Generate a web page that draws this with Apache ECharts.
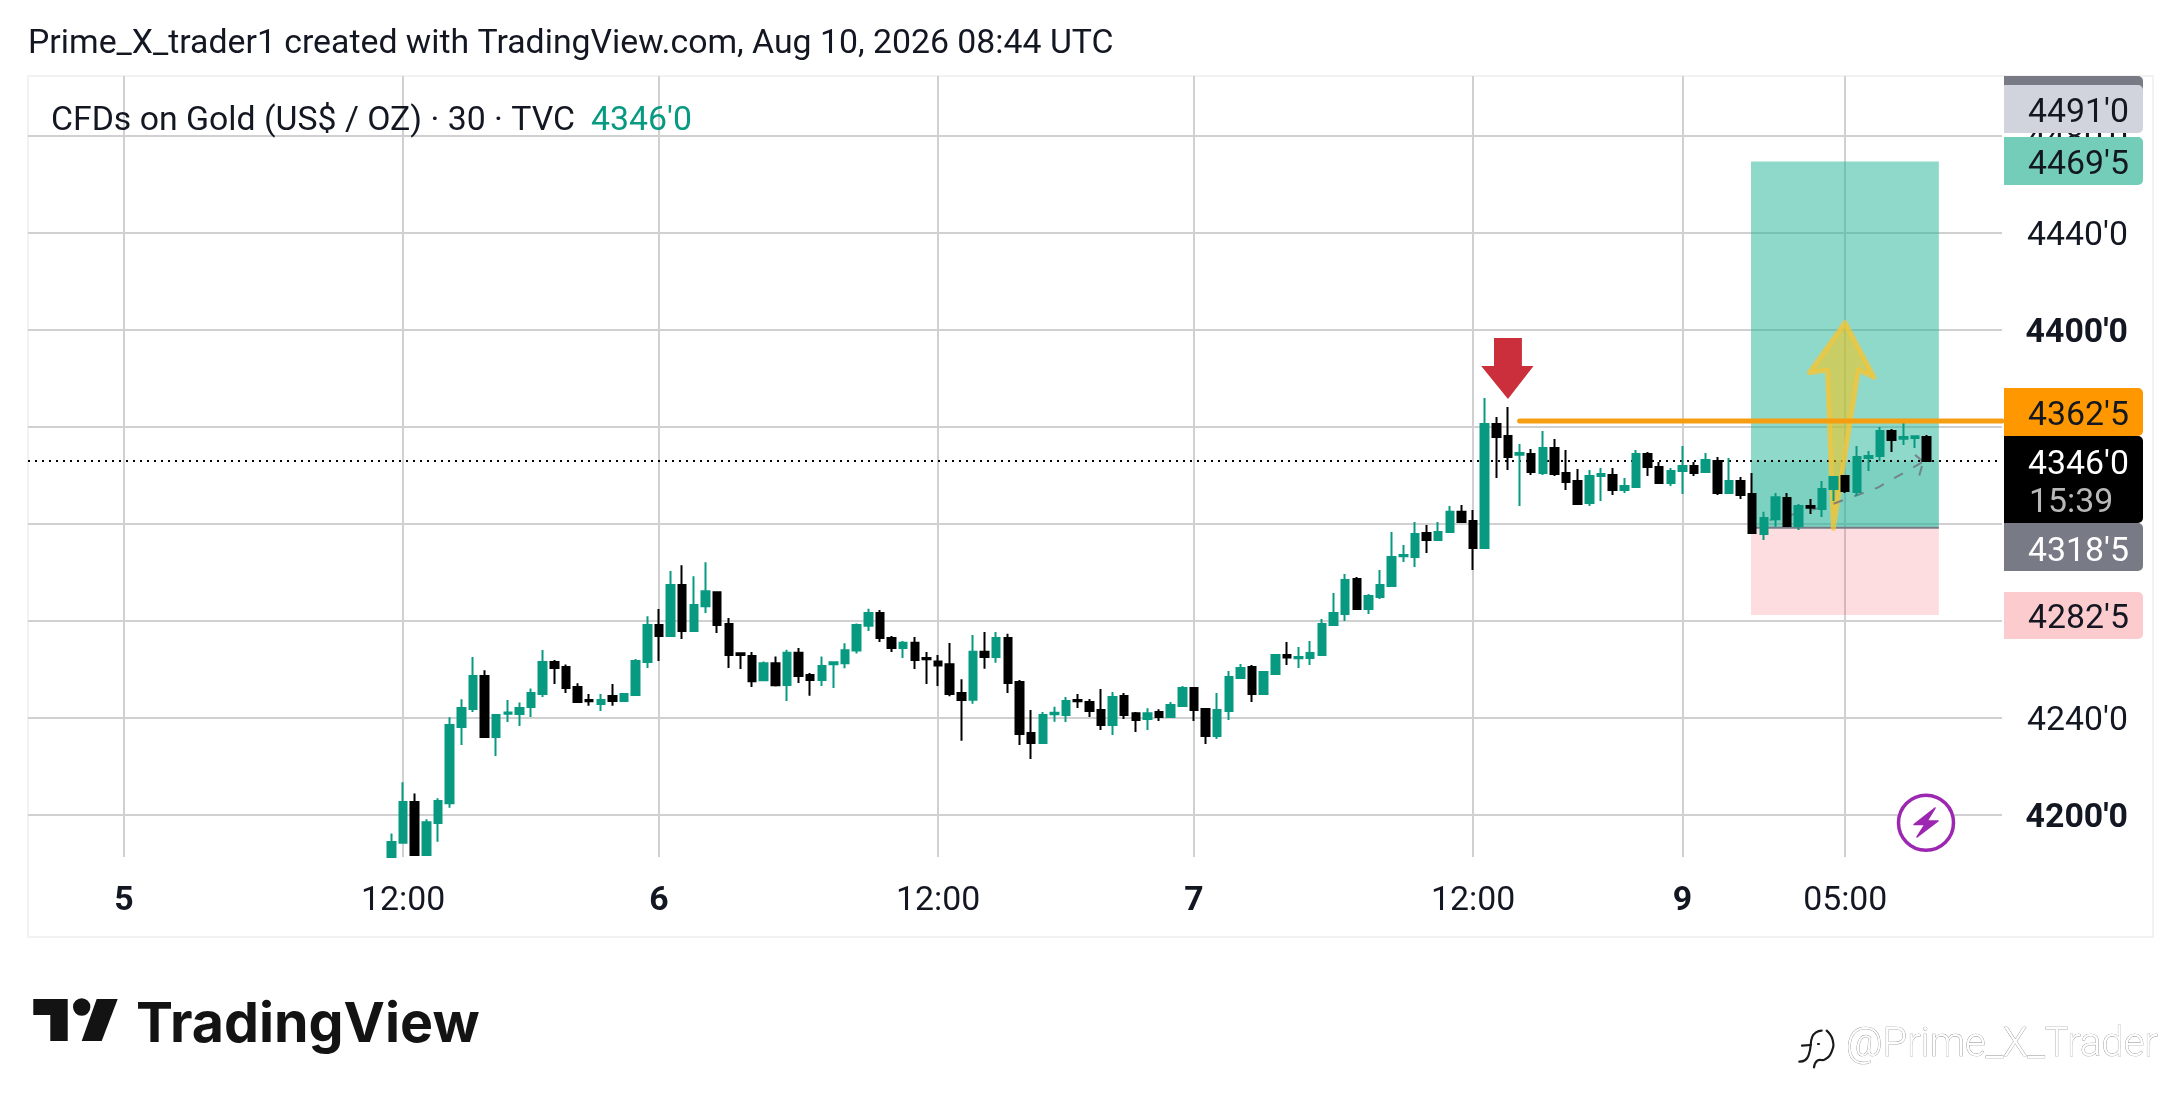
<!DOCTYPE html>
<html>
<head>
<meta charset="utf-8">
<style>html,body{margin:0;padding:0;background:#fff}#c{width:2181px;height:1106px}</style>
<script src="https://cdn.jsdelivr.net/npm/echarts@6/dist/echarts.min.js"></script>
</head>
<body>
<div id="c"></div>
<script>
// ---- data ----
const firstBar = 23;
const opens = [
4182.7,4188.6,4205.4,4183.5,4196.7,4204.8,4236.3,4243.7,4257.3,4232.2,
4241.8,4241.6,4244.5,4249.9,4263.1,4261,4252.8,4247.4,4245.8,4249.1,
4247,4249.5,4263.1,4278.4,4273.8,4294.8,4275.9,4286.1,4291.9,4278.8,
4266.7,4265.6,4255.6,4262.6,4253.6,4266.9,4257.7,4255.7,4262.2,4262.6,
4267.8,4278,4283.3,4273,4268.9,4271,4264.7,4263.3,4262.2,4250.3,
4247.5,4267.3,4265.2,4273,4254.8,4233.8,4229.7,4241.5,4241.2,4247.4,
4246.6,4243.3,4237.1,4249.1,4242,4239.6,4242.5,4240.4,4244.9,4252.4,
4243.7,4232.6,4242.9,4256.5,4261,4249.9,4258.1,4266,4264.6,4264.7,
4266,4278.4,4282.9,4297.3,4284.9,4289.9,4294.4,4306.7,4306.4,4316.3,
4313.4,4316.7,4325,4321.2,4310.1,4361.2,4356.3,4348.6,4348.9,4341,
4351.3,4341,4337.7,4328.7,4339.8,4340.2,4334,4335.3,4348.9,4343.5,
4336.9,4341.9,4343.9,4341.4,4346,4332.8,4337.7,4332.4,4315.9,4322,
4330.7,4319.2,4327.4,4326.2,4334.4,4339.8,4333.2,4347.2,4348,4358.4,4355.2,4355.5,4355.9];
const closes = [
4188.9,4205.4,4183.5,4197,4205.8,4237.1,4244.1,4257.3,4232.2,4241.2,
4242.3,4244.1,4250.3,4263.1,4260.6,4252.4,4246.6,4246.9,4247.4,4247,
4249.9,4263.5,4278.4,4273.8,4294.8,4275.9,4286.6,4292.3,4278.4,4266,
4266,4255.2,4262.6,4253.5,4266.9,4257.3,4255.7,4261.4,4263,4267.9,
4278.4,4283.3,4273,4268.9,4271,4263.9,4264.2,4261.6,4249.9,4247.4,
4267.3,4265.2,4273,4254.4,4233.4,4229.7,4241.2,4242.2,4247,4246.9,
4242.9,4237.1,4248.7,4241.2,4239.2,4242,4240.4,4245.4,4252.4,4243.3,
4232.6,4243.3,4256.9,4260.6,4249.9,4259,4266,4264.9,4265.2,4266.8,
4278.8,4283.3,4296.9,4284.9,4290.3,4294.8,4306.4,4307.2,4315.9,4313.4,
4316.7,4325,4320.8,4310.1,4361.2,4355.9,4347.6,4349.3,4341.4,4351.3,
4340.6,4337.3,4328.2,4339.8,4340.6,4334,4335.7,4348.9,4343.5,4336.9,
4341.9,4343.9,4341,4346.4,4332.8,4337.7,4332,4316.3,4322.5,4331,
4319.2,4327.4,4326.7,4334.4,4339.4,4333.6,4347.6,4348,4358.4,4354.6,4355.9,4356.2,4346];
const lows = [
4182.7,4188.6,4183.1,4183.5,4189,4203,4228.9,4242.5,4232.2,4224.3,
4238.4,4236.7,4240.4,4248.7,4254,4250.3,4246.2,4245,4242.9,4245,
4247,4249.1,4260.6,4263.5,4273.8,4272.6,4275.5,4283.3,4275,4260.6,
4260.2,4252.8,4255.6,4253,4247,4254.4,4249.2,4253.2,4252.4,4260.5,
4266.6,4275.9,4271.3,4267.2,4264.7,4260.2,4254,4253.2,4249,4230.6,
4245.9,4260.3,4262.8,4250.3,4228.9,4223.1,4229.7,4238.5,4238.4,4244.1,
4240.4,4235,4233,4239.6,4234.2,4235,4238.8,4240,4244.5,4238.8,
4229.3,4231.3,4239.2,4256.1,4246.6,4249.5,4257.7,4261.9,4260.6,4261.9,
4266,4278.4,4280,4284.5,4282.9,4289.1,4294,4304.3,4302.3,4308,
4313,4316.7,4320.8,4301,4309.7,4339,4342.3,4327.4,4340.2,4340.2,
4339.8,4334,4328.2,4327.4,4329.5,4332,4332.8,4334.8,4339.8,4336.9,
4335.7,4332.4,4339.8,4341,4332,4332.4,4330.3,4316.3,4313.4,4318.9,
4318.8,4317.5,4324.1,4322.9,4329.5,4332.8,4331.5,4341.9,4346,4349.7,4352.6,4351.3,4345.6];
const highs = [
4192.4,4213.5,4208.9,4198.2,4206.9,4240.3,4247.7,4265.2,4259.7,4241.6,
4247.4,4246.4,4252.2,4268,4263.9,4262.1,4254.3,4249.9,4249.9,4254,
4250.3,4264.3,4282,4284.9,4300.6,4303,4298.5,4304.2,4292.2,4281.2,
4266.7,4267.2,4263.3,4265.4,4268.1,4268.9,4258.6,4265.4,4263,4270.8,
4279,4285,4284.5,4273.8,4271.8,4273.4,4267.2,4266,4270.9,4256,
4274.2,4275.5,4275.5,4274.7,4255.7,4243.3,4242.5,4244.6,4248.7,4249.9,
4247.8,4252,4250.7,4250.3,4242.5,4244,4243.6,4246.6,4253.2,4252.8,
4244,4250.3,4259.4,4262.3,4261.9,4259.4,4266.4,4271.3,4269.3,4271.8,
4280.8,4291.5,4299.4,4298.1,4291.1,4301,4316.7,4311.3,4320.8,4319.6,
4320.8,4327.4,4327.8,4325.8,4372,4364.1,4368.2,4353,4350.9,4358.4,
4355,4350.5,4342.7,4342.3,4343.1,4343.1,4339,4350.5,4349.7,4345.6,
4343.1,4352.2,4345.6,4349.3,4347.6,4347.2,4339.4,4341,4325,4332.8,
4332.8,4328.2,4330.3,4337.7,4339.8,4339.8,4352.2,4350.1,4360,4359.2,4362.1,4356.2,4356.7];

const xTickBars   = [0,24,46,70,92,116,134,148];
const xTickLabels = ['5','12:00','6','12:00','7','12:00','9','05:00'];
const xTickBold   = [true,false,true,false,true,false,true,false];
const yTicks      = [4200,4240,4280,4320,4360,4400,4440,4480];
const yTickBold   = [4200,4400];
const yTickText   = ["4200'0","4240'0","4280'0","4320'0","4360'0","4400'0","4440'0","4480'0"];

const lastPrice = 4346, entryPrice = 4318.5, targetPrice = 4469.5, stopPrice = 4282.5, hLevel = 4362.5;
const positionBars = [139.9,156.05];
const hLevelBars   = [120,161.48];
const projection   = [[141.5,4321.6],[146.5,4327.5],[150.8,4335],[154.7,4345.7]];
const projectionHead = [[154,4348.5],[154.7,4345.7],[154.3,4338.8]];
const upArrow   = [[147.98,4403],[150.47,4380.5],[149.13,4383.5],[146.98,4318.2],[146.47,4383.5],[144.92,4382.4]];
const downArrow = [[117.8,4396.7],[120.2,4396.7],[120.2,4385.2],[121.2,4385.2],[119,4371.5],[116.7,4385.2],[117.8,4385.2]];

// ---- layout ----
const XMIN=-8.254, XMAX=161.48, YMIN=4182.68, YMAX=4504.74;
const GREEN='#089981', BLACK='#000000', GRID='#d0d0d0', FONT='Roboto', FS=33.8;

const candles = opens.map((o,i)=>[firstBar+i,o,closes[i],lows[i],highs[i]]);

function polygonSeries(name,points,z,style){
  return {name,type:'custom',coordinateSystem:'cartesian2d',z,clip:false,silent:true,
    data:[points[0]],encode:{x:0,y:1},
    renderItem:(p,api)=>({type:'polygon',shape:{points:points.map(q=>api.coord(q))},style})};
}
function rect(bars,a,b){return [[bars[0],a],[bars[1],a],[bars[1],b],[bars[0],b]];}
function lineSeries(name,data,z,ls){
  return {name,type:'line',data,z,symbol:'none',silent:true,lineStyle:ls,animation:false};
}

function tag(y0,y1,color,label,textColor,top){
  const els=[{type:'rect',z:100,shape:{x:2004,y:y0,width:139,height:y1-y0,r:[0,5,5,0]},style:{fill:color}}];
  if(label) els.push({type:'text',z:101,style:{x:2129,y:top,text:label,fill:textColor,font:FS+'px '+FONT,align:'right',verticalAlign:'middle'}});
  return els;
}
function iconLine(points,color,w,smooth){
  return {type:'polyline',z:101,shape:{points:points.map(p=>[1780+p[0]/3,780+p[1]/3]),smooth:smooth||0},style:{fill:'none',stroke:color,lineWidth:w,lineCap:'round'}};
}
const graphics=[].concat(
  [{type:'rect',z:-1,silent:true,shape:{x:28,y:76,width:2125,height:861},style:{fill:'none',stroke:'#f2f2f2',lineWidth:2}}],
  [{type:'text',z:100,style:{x:28,y:45,text:'Prime_X_trader1 created with TradingView.com, Aug 10, 2026 08:44 UTC',fill:'#131722',font:FS+'px '+FONT,verticalAlign:'middle'}}],
  [{type:'text',z:100,style:{x:51,y:122,text:'CFDs on Gold (US$ / OZ) · 30 · TVC',fill:'#131722',font:FS+'px '+FONT,verticalAlign:'middle'}}],
  [{type:'text',z:100,style:{x:591,y:122,text:"4346'0",fill:GREEN,font:FS+'px '+FONT,verticalAlign:'middle'}}],
  tag(76,100,'#787b86'),
  tag(85,133,'#d1d4dc',"4491'0",'#131722',114),
  tag(137,185,'#73cdb9',"4469'5",'#131722',166),
  tag(388,436,'#ff9800',"4362'5",'#131722',417),
  tag(523,571,'#787b86',"4318'5",'#ffffff',553),
  tag(436,523,'#000000',"4346'0",'#ffffff',466),
  tag(592,639,'#fccbcd',"4282'5",'#131722',620),
  [{type:'text',z:101,style:{x:2029,y:504,text:'15:39',fill:'#b8b8b8',font:FS+'px '+FONT,verticalAlign:'middle'}}],
  // lightning badge
  [{type:'circle',z:100,shape:{cx:1926,cy:822.7,r:27.5},style:{fill:'#fff',stroke:'#9c27b0',lineWidth:3.5}}],
  [{type:'polygon',z:101,shape:{points:[[1935,808],[1914,824.5],[1925,824.5],[1917,837],[1938,821],[1927,821]]},style:{fill:'#9c27b0',stroke:'#9c27b0',lineWidth:1.5,lineJoin:'round'}}],
  // TradingView logo
  [{type:'polygon',z:100,shape:{points:[[33.3,999],[67.7,999],[67.7,1041],[50.3,1041],[50.3,1015],[33.3,1015]]},style:{fill:'#131313'}}],
  [{type:'circle',z:100,shape:{cx:81.7,cy:1007,r:8.7},style:{fill:'#131313'}}],
  [{type:'polygon',z:100,shape:{points:[[96.7,999],[117.7,999],[101.7,1041],[81.7,1041]]},style:{fill:'#131313'}}],
  [{type:'text',z:100,style:{x:136,y:1025,text:'TradingView',fill:'#131313',font:'700 55.5px Inter',verticalAlign:'middle'}}],
  // watermark
  [{type:'text',z:100,style:{x:1846,y:1046,text:'@Prime_X_Trader',fill:'#ffffff',stroke:'#8a8a8a',lineWidth:0.7,font:'300 40px Roboto',verticalAlign:'middle'}}],
  [iconLine([[66,797],[92,795]],'#1a1a1a',2.2)],
  [iconLine([[92,795],[97,770],[108,757],[125,752]],'#1a1a1a',2.2,0.5)],
  [iconLine([[140,752],[158,780],[155,815],[135,838],[112,842],[102,862]],'#1a1a1a',2.2,0.5)],
  [iconLine([[92,795],[86,825],[76,840],[58,845]],'#1a1a1a',2.2,0.5)],
  [iconLine([[114,792],[117,792]],'#1a1a1a',2.2)]
);

const chart=echarts.init(document.getElementById('c'),null,{width:2181,height:1106,renderer:'canvas'});
chart.setOption({
  animation:false,backgroundColor:'#ffffff',
  grid:{left:28,right:179,top:76,height:781,containLabel:false},
  xAxis:{type:'value',min:XMIN,max:XMAX,
    axisLine:{show:false},
    axisTick:{show:false,customValues:xTickBars},
    splitLine:{show:true,lineStyle:{color:GRID,width:2}},
    axisLabel:{customValues:xTickBars,margin:28,color:'#131722',fontFamily:FONT,fontSize:FS,
      formatter:v=>{const i=xTickBars.indexOf(v);return xTickBold[i]?'{b|'+xTickLabels[i]+'}':xTickLabels[i];},
      rich:{b:{fontWeight:'bold',fontFamily:FONT,fontSize:FS,color:'#131722'}}}},
  yAxis:{type:'value',position:'right',min:YMIN,max:YMAX,
    axisLine:{show:false},
    axisTick:{show:false,customValues:yTicks},
    splitLine:{show:true,lineStyle:{color:GRID,width:2}},
    axisLabel:{customValues:yTicks,inside:false,margin:126,align:'right',padding:[7,0,0,0],color:'#131722',fontFamily:FONT,fontSize:FS,
      formatter:v=>{const t=yTickText[yTicks.indexOf(v)];return yTickBold.includes(v)?'{b|'+t+'}':t;},
      rich:{b:{fontWeight:'bold',fontFamily:FONT,fontSize:FS,color:'#131722'}}}},
  series:[
    polygonSeries('stop',rect(positionBars,entryPrice,stopPrice),1,{fill:'rgba(242,54,69,0.17)'}),
    polygonSeries('target',rect(positionBars,entryPrice,targetPrice),1,{fill:'rgba(30,180,150,0.5)'}),
    polygonSeries('open',rect(positionBars,entryPrice,lastPrice),1,{fill:'rgba(8,153,129,0.12)'}),
    lineSeries('entry',[[positionBars[0],entryPrice],[positionBars[1],entryPrice]],2,{color:'#787b86',width:2}),
    lineSeries('last',[[XMIN,lastPrice],[XMAX,lastPrice]],2,{color:'#000',width:2,type:[2,5]}),
    polygonSeries('upArrow',upArrow,3,{fill:'rgba(255,193,7,0.52)',stroke:'rgba(245,196,55,0.75)',lineWidth:5,lineJoin:'round'}),
    lineSeries('projection',projection,3,{color:'rgba(110,112,124,0.8)',width:2,type:[10,12]}),
    lineSeries('projectionHead',projectionHead,3,{color:'rgba(110,112,124,0.8)',width:2,type:[10,5]}),
    {name:'CFDs on Gold',type:'candlestick',z:4,data:candles,encode:{x:0,y:[1,2,3,4]},barWidth:8,clip:true,silent:true,
      itemStyle:{color:GREEN,color0:BLACK,borderColor:GREEN,borderColor0:BLACK,borderWidth:2}},
    lineSeries('level',[[hLevelBars[0],hLevel],[hLevelBars[1],hLevel]],5,{color:'#f59e12',width:5,cap:'round'}),
    polygonSeries('downArrow',downArrow,6,{fill:'#cc2f3c'})
  ],
  graphic:{elements:graphics}
});
</script>
</body>
</html>
